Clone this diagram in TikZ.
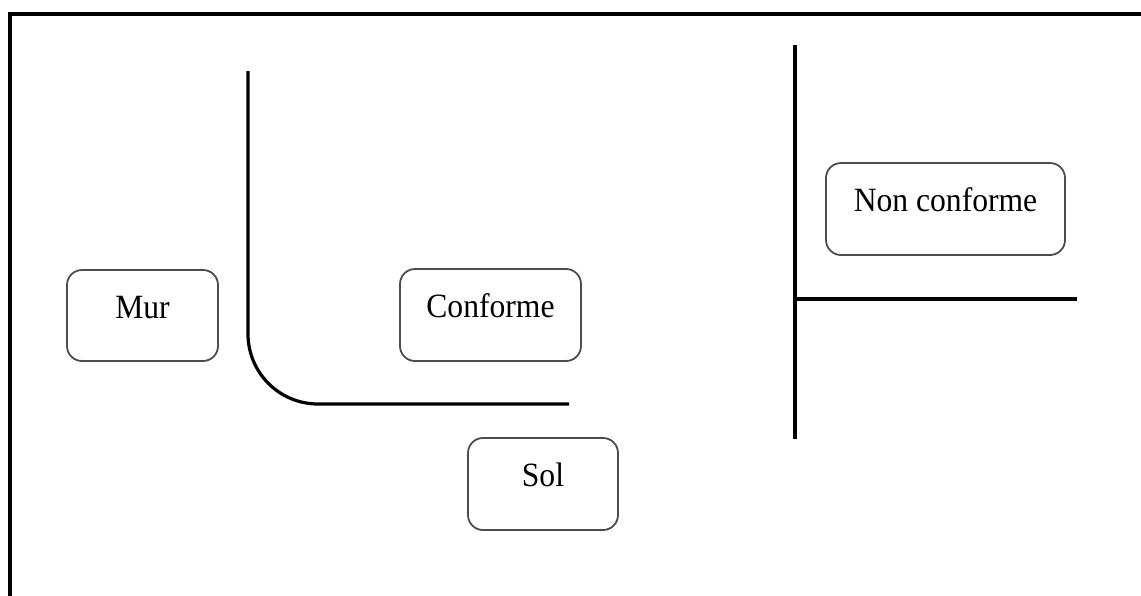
\documentclass[tikz,border=0pt]{standalone}
\usepackage{fontspec}
\setmainfont{Liberation Serif}
\begin{document}
\begin{tikzpicture}[x=1pt,y=-1pt,
  lbox/.style={draw=black!70, line width=1.8pt, rounded corners=15pt, fill=white,
    inner sep=0pt, text height=22.5pt, text depth=17.5pt,
    font=\fontsize{34}{40}\selectfont},
  thick line/.style={line width=3.2pt, black}]
\useasboundingbox (0,0) rectangle (1141,595);
\clip (0,0) rectangle (1141,595);
% frame
\coordinate (fbl) at (10,600);
\coordinate (ftl) at (10,14);
\coordinate (ftr) at (1150,14);
\draw[line width=4pt] (fbl) -- (ftl) -- (ftr);
% left corner (wall + floor)
\coordinate (wtop) at (248,71);
\coordinate (corner) at (248,404);
\coordinate (fend) at (569,404);
\draw[thick line, rounded corners=70pt] (wtop) -- (corner) -- (fend);
% right cross
\coordinate (vtop) at (795,45);
\coordinate (vbot) at (795,439);
\coordinate (hmid) at (795,299);
\coordinate (hend) at (1077,299);
\draw[thick line] (vtop) -- (vbot);
\draw[thick line] (hmid) -- (hend);
% boxes
\node[lbox, minimum width=151pt, minimum height=91pt] (mur) at (142.5,315.5) {\scalebox{0.93}[1]{Mur}};
\node[lbox, minimum width=181pt, minimum height=92pt] (conf) at (490.5,315) {\scalebox{0.93}[1]{Conforme}};
\node[lbox, minimum width=150pt, minimum height=92pt] (sol) at (543,484) {\scalebox{0.93}[1]{Sol}};
\node[lbox, minimum width=239pt, minimum height=92pt] (nonconf) at (945.5,209) {\scalebox{0.93}[1]{Non conforme}};
\end{tikzpicture}
\end{document}
